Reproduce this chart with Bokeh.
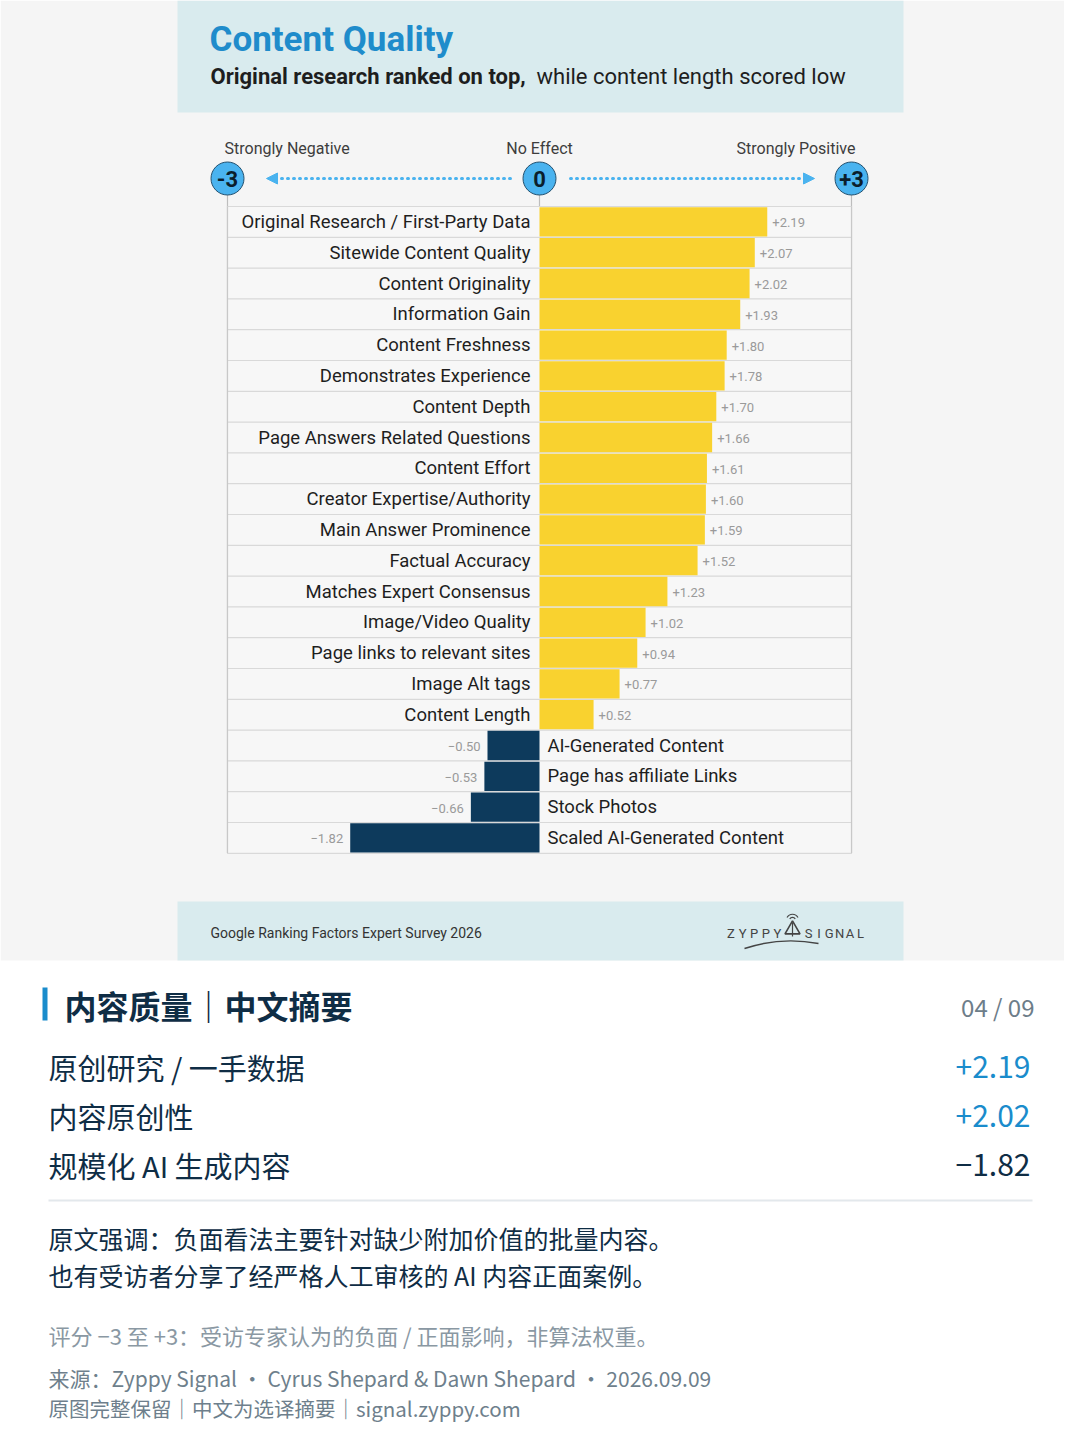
from bokeh.plotting import figure
from bokeh.models import Range1d, Label, Arrow, NormalHead, ColumnDataSource
from bokeh.core.properties import value
from bokeh.embed import file_html
from bokeh.resources import INLINE

# ---------------- data ----------------
categories = [
    "Original Research / First-Party Data", "Sitewide Content Quality", "Content Originality",
    "Information Gain", "Content Freshness", "Demonstrates Experience", "Content Depth",
    "Page Answers Related Questions", "Content Effort", "Creator Expertise/Authority",
    "Main Answer Prominence", "Factual Accuracy", "Matches Expert Consensus",
    "Image/Video Quality", "Page links to relevant sites", "Image Alt tags", "Content Length",
    "AI-Generated Content", "Page has affiliate Links", "Stock Photos", "Scaled AI-Generated Content",
]
scores = [2.19, 2.07, 2.02, 1.93, 1.80, 1.78, 1.70, 1.66, 1.61, 1.60, 1.59, 1.52, 1.23,
          1.02, 0.94, 0.77, 0.52, -0.50, -0.53, -0.66, -1.82]
scale_ticks = [-3, 0, 3]
scale_tick_labels = ["-3", "0", "+3"]
scale_titles = ["Strongly Negative", "No Effect", "Strongly Positive"]

title = "Content Quality"
subtitle_bold = "Original research ranked on top,"
subtitle_rest = "while content length scored low"
footer_left = "Google Ranking Factors Expert Survey 2026"
logo_left = "ZYPPY"
logo_right = "SIGNAL"

cn_title = "内容质量｜中文摘要"
cn_page = "04 / 09"
cn_items = ["原创研究 / 一手数据", "内容原创性", "规模化 AI 生成内容"]
cn_values = [2.19, 2.02, -1.82]
cn_para = ["原文强调：负面看法主要针对缺少附加价值的批量内容。",
           "也有受访者分享了经严格人工审核的 AI 内容正面案例。"]
cn_note = "评分 −3 至 +3：受访专家认为的负面 / 正面影响，非算法权重。"
cn_source = ["来源：Zyppy Signal · Cyrus Shepard & Dawn Shepard · 2026.09.09",
             "原图完整保留｜中文为选译摘要｜signal.zyppy.com"]

# ---------------- layout helpers (page pixels -> data) ----------------
W, H = 1064, 1424
OFF = 0                        # page pixel of the figure's top-left corner
X0, SX = 539.0, 104.0          # page x of value 0, pixels per unit
Y0, SY = 221.4, 30.8           # page y of row 0 centre, pixels per row
def PX(px): return (px - X0) / SX
def PY(py): return (py - Y0) / SY

p = figure(width=W, height=H, output_backend="svg", toolbar_location=None,
           x_range=Range1d(PX(OFF), PX(OFF + W)), y_range=Range1d(PY(OFF + H), PY(OFF)),
           min_border=0, background_fill_color="white", border_fill_color="white")
p.axis.visible = False
p.grid.visible = False
p.outline_line_color = None

LAT = "Roboto"
CJK = "Noto Sans CJK SC"

def box(x1, y1, x2, y2, color):
    p.quad(left=PX(x1), right=PX(x2), top=PY(y1), bottom=PY(y2), fill_color=color, line_color=None)

def label(x, y, s, size, color, align="left", bold=False, font=LAT, baseline="middle"):
    p.add_layout(Label(x=PX(x), y=PY(y), text=s, text_font_size=f"{size}px", text_color=color,
                       text_align=align, text_baseline=baseline, text_font=font,
                       text_font_style="bold" if bold else "normal"))

# backgrounds
box(0, 0, 1080, 960, "#f5f5f5")
box(177, 0, 903, 112, "#d9ebee")
box(177, 901, 903, 960, "#d9ebee")

# header
label(209, 39, title, 35, "#1f8ccb", bold=True)
label(210, 76, subtitle_bold, 22, "#1e1e1e", bold=True)
label(536, 76, subtitle_rest, 22, "#1e1e1e")

# scale header
n = len(categories)
top_y, bot_y = PY(Y0 - SY / 2), PY(Y0 + SY * (n - 0.5))
for t in scale_ticks:
    p.segment(x0=t, x1=t, y0=PY(178), y1=bot_y, line_color="#bdbdbd", line_width=1.2)
label(224, 148, scale_titles[0], 16, "#3d3d3d")
label(X0, 148, scale_titles[1], 16, "#3d3d3d", align="center")
label(855, 148, scale_titles[2], 16, "#3d3d3d", align="right")

for xs, xe in [(510, 266), (570, 814)]:
    p.add_layout(Arrow(end=NormalHead(size=11, fill_color="#4ab3ef", line_color="#4ab3ef"),
                       x_start=PX(xs), y_start=PY(178), x_end=PX(xe), y_end=PY(178),
                       line_color="#4ab3ef", line_width=3, line_dash="1 5", line_cap="round"))
sc = ColumnDataSource(dict(x=scale_ticks, y=[PY(178)] * 3, t=scale_tick_labels))
p.scatter(x="x", y="y", size=33, source=sc, fill_color="#4ab3ef", line_color="#23506e", line_width=1)
p.text(x="x", y="y", text="t", source=sc, text_align="center", text_baseline="middle",
       text_font=value(LAT), text_font_style="bold", text_font_size="22px", text_color="#0b1e2c")

# table rows
idx = list(range(n))
box(227, Y0 - SY / 2, 851, Y0 + SY * (n - 0.5), "#f7f7f7")
row_edges = [i - 0.5 for i in range(n + 1)]
p.segment(x0=PX(227), x1=PX(851), y0=row_edges, y1=row_edges, line_color="#d9d9d9", line_width=1.2)
p.segment(x0=[PX(227), PX(851)], x1=[PX(227), PX(851)], y0=[top_y] * 2, y1=[bot_y] * 2,
          line_color="#c8c8c8", line_width=1.2)

colors = ["#f9d22f" if v > 0 else "#0d3a5c" for v in scores]
src = ColumnDataSource(dict(y=idx, v=scores, c=colors, cat=categories))
p.hbar(y="y", left=0, right="v", height=0.95, fill_color="c", line_color=None, source=src)

pos = [i for i, v in enumerate(scores) if v > 0]
neg = [i for i, v in enumerate(scores) if v <= 0]
ps = ColumnDataSource(dict(y=pos, v=[scores[i] for i in pos], cat=[categories[i] for i in pos],
                           t=[f"+{scores[i]:.2f}" for i in pos]))
ns = ColumnDataSource(dict(y=neg, v=[scores[i] for i in neg], cat=[categories[i] for i in neg],
                           t=[f"\u2212{abs(scores[i]):.2f}" for i in neg]))
p.text(x=0, y="y", text="cat", source=ps, x_offset=-9, text_align="right", text_baseline="middle",
       text_font=value(LAT), text_font_size="18.5px", text_color="#1e1e1e")
p.text(x="v", y="y", text="t", source=ps, x_offset=5, y_offset=1, text_align="left", text_baseline="middle",
       text_font=value(LAT), text_font_size="13px", text_color="#9a9a9a")
p.text(x=0, y="y", text="cat", source=ns, x_offset=8, text_align="left", text_baseline="middle",
       text_font=value(LAT), text_font_size="18.5px", text_color="#1e1e1e")
p.text(x="v", y="y", text="t", source=ns, x_offset=-7, y_offset=1, text_align="right", text_baseline="middle",
       text_font=value(LAT), text_font_size="13px", text_color="#9a9a9a")

# footer band
label(210, 932, footer_left, 14, "#333333")
for k, ch in enumerate(logo_left):
    label(730.5 + 11.6 * k, 933, ch, 13, "#444444", align="center")
for k, ch in enumerate(logo_right):
    label(808 + 10.4 * k, 933, ch, 13, "#444444", align="center")
p.scatter(x=[PX(792)], y=[PY(929)], marker="triangle", size=15, fill_color=None,
          line_color="#444444", line_width=1.6)
p.segment(x0=[PX(792)], x1=[PX(792)], y0=[PY(922)], y1=[PY(936)], line_color="#444444", line_width=1.2)
p.arc(x=[PX(792)] * 2, y=[PY(920)] * 2, radius=[0.03, 0.06], start_angle=0.5, end_angle=2.64,
      direction="anticlock", line_color="#444444", line_width=1.2)
p.quadratic(x0=[PX(744)], y0=[PY(948)], x1=[PX(818)], y1=[PY(943)], cx=[PX(780)], cy=[PY(936)],
            line_color="#444444", line_width=1.4)

# Chinese section
box(42, 987, 47, 1020, "#1a8ccc")
label(64, 1004, cn_title, 32, "#0f2d45", bold=True, font=CJK)
label(1034, 1006, cn_page, 24, "#6d7d89", align="right", font=CJK)
for k, (s, v) in enumerate(zip(cn_items, cn_values)):
    yy = 1066 + 49 * k
    label(48, yy, s, 29, "#0f2d45", font=CJK)
    t = f"+{v:.2f}" if v > 0 else f"\u2212{abs(v):.2f}"
    label(1030, yy, t, 30, "#1a8ccc" if v > 0 else "#0f2d45", align="right", font=CJK)
p.segment(x0=[PX(48)], x1=[PX(1032)], y0=[PY(1200)], y1=[PY(1200)], line_color="#e3e8ec", line_width=2)
for k, s in enumerate(cn_para):
    label(48, 1237 + 37 * k, s, 25, "#0f2d45", font=CJK)
label(48, 1334, cn_note, 22, "#8a98a3", font=CJK)
label(48, 1377, cn_source[0], 21, "#6e7f8c", font=CJK)
label(48, 1407, cn_source[1], 20.5, "#6e7f8c", font=CJK)

open("out.html", "w").write(file_html(p, INLINE))
